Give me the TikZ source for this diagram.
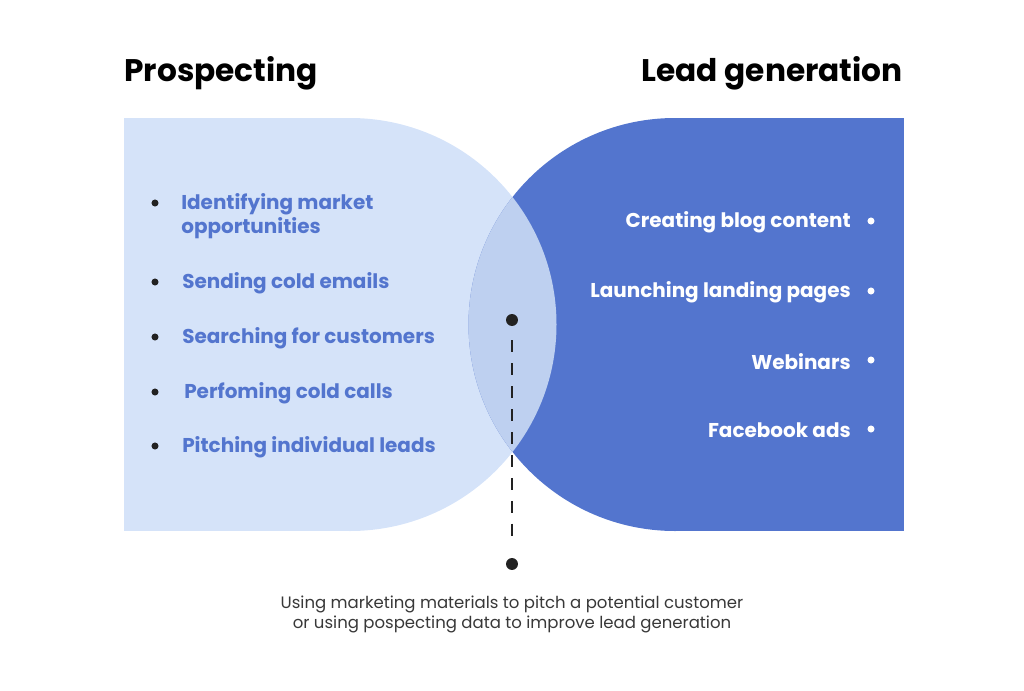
\documentclass[tikz,border=0pt]{standalone}
\usepackage{fontspec}
\setmainfont{Poppins}
\definecolor{blueL}{RGB}{213,227,249}
\definecolor{blueD}{RGB}{83,117,206}
\definecolor{blueM}{RGB}{190,208,240}
\definecolor{ink}{RGB}{34,34,34}

\begin{document}
\begin{tikzpicture}[x=0.025cm, y=-0.025cm,
  every node/.style={inner sep=0},
  heading/.style={font=\fontsize{22.2}{26}\selectfont\bfseries, text=black},
  lefttask/.style={anchor=west, align=left, text=blueD, font=\fontsize{14.2}{17.2}\selectfont\bfseries},
  righttask/.style={anchor=east, align=right, text=white, font=\fontsize{14.2}{17.2}\selectfont\bfseries},
  dot/.style={circle, fill=ink, minimum size=5pt},
  wdot/.style={circle, fill=white, minimum size=5pt},
  bigdot/.style={circle, fill=ink, minimum size=8.5pt}]

  \useasboundingbox (0,0) rectangle (1024,690);

  % the two shapes
  \fill [blueL] (124,118) rectangle (350,531);
  \fill [blueL] (350,324.5) circle (206.5);
  \fill [blueD] (675,118) rectangle (904,531);
  \fill [blueD] (675,324.5) circle (206.5);
  \begin{scope}
    \clip (350,324.5) circle (206.5);
    \fill [blueM] (675,324.5) circle (206.5);
  \end{scope}

  \node[heading, anchor=base west] (pros) at (124,82) {Prospecting};
  \node[heading, anchor=base east] (lead) at (903,82) {Lead generation};

  % prospecting tasks
  \node[dot] (p1) at (155,203) {};
  \node[lefttask] (t1) at (181,216.5) {Identifying market\\opportunities};
  \node[dot] (p2) at (155,282) {};
  \node[lefttask] (t2) at (182,283.5) {Sending cold emails};
  \node[dot] (p3) at (155,337) {};
  \node[lefttask] (t3) at (182,338.5) {Searching for customers};
  \node[dot] (p4) at (155,392) {};
  \node[lefttask] (t4) at (184,393.5) {Perfoming cold calls};
  \node[dot] (p5) at (155,446) {};
  \node[lefttask] (t5) at (182,447.5) {Pitching individual leads};

  % lead generation tasks
  \node[wdot] (l1) at (871,221) {};
  \node[righttask] (u1) at (851,222.5) {Creating blog content};
  \node[wdot] (l2) at (871,291) {};
  \node[righttask] (u2) at (851,292.5) {Launching landing pages};
  \node[wdot] (l3) at (871,360) {};
  \node[righttask] (u3) at (851,361.5) {Webinars};
  \node[wdot] (l4) at (871,429) {};
  \node[righttask] (u4) at (851,430.5) {Facebook ads};

  % overlap
  \node[bigdot] (top) at (512,320) {};
  \node[bigdot] (bot) at (512,564) {};
  \draw [ink, line width=1.4pt, dash pattern=on 8.5pt off 7.8pt, shorten <=10pt, shorten >=10pt] (top) -- (bot);

  \node[text=ink!90, align=center, font=\fontsize{11.75}{14.3}\selectfont] (note) at (512,614)
    {Using marketing materials to pitch a potential customer\\or using pospecting data to improve lead generation};

\end{tikzpicture}
\end{document}
